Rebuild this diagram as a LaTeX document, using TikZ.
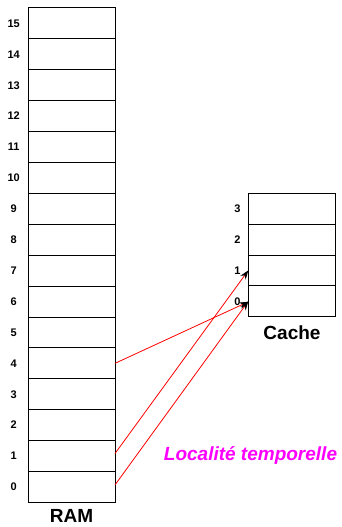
\documentclass[tikz,border=0pt]{standalone}
\usepackage{fontspec}
\setmainfont{Liberation Sans}
\usetikzlibrary{arrows.meta}
\definecolor{magentaT}{RGB}{255,0,255}
\begin{document}
\begin{tikzpicture}[x=1pt,y=-1pt,
  cell/.style={draw=black,line width=1pt,minimum width=87pt,minimum height=30.9pt,inner sep=0pt,outer sep=0pt,anchor=north west},
  ccell/.style={draw=black,line width=1pt,minimum width=87.4pt,minimum height=30.85pt,inner sep=0pt,outer sep=0pt,anchor=north west},
  idx/.style={font=\fontsize{11}{12}\selectfont\bfseries,inner sep=0pt},
  title/.style={font=\fontsize{19}{22}\selectfont\bfseries,inner sep=0pt},
  link/.style={draw=red,line width=0.8pt,-{Stealth[black,length=9pt,width=6.5pt]}}]
\useasboundingbox (0,0) rectangle (342,527);
\foreach \i in {0,...,15}{
  \node[cell] (r\i) at (28,{8+(15-\i)*30.9}) {};
  \node[idx] (rl\i) at (13.7,{8+(15-\i)*30.9+15.45}) {\i};
}
\foreach \i in {0,...,3}{
  \node[ccell] (c\i) at (248.3,{193.3+(3-\i)*30.85}) {};
  \node[idx] (cl\i) at (237.5,{193.3+(3-\i)*30.85+15.4}) {\i};
}
\node[title] (ram) at (71.5,516) {RAM};
\node[title] (cache) at (292,333) {Cache};
\node[font=\fontsize{19}{22}\selectfont\bfseries\itshape,text=magentaT,inner sep=0pt] (loc) at (250.5,455) {Localité temporelle};
\draw[link] (r4.east) -- ([yshift=-0.5pt]c0.west);
\draw[link] ([yshift=2.5pt]r1.east) -- (c1.west);
\draw[link] ([yshift=2pt]r0.east) -- (c0.west);
\end{tikzpicture}
\end{document}
